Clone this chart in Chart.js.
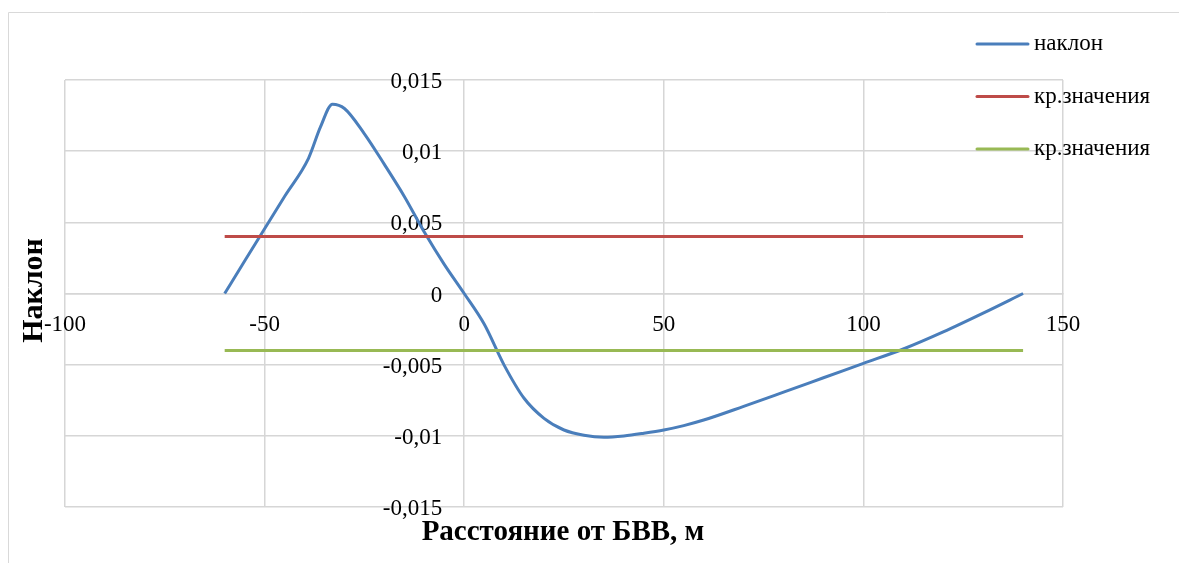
<!DOCTYPE html>
<html>
<head>
<meta charset="utf-8">
<script src="https://cdn.jsdelivr.net/npm/chart.js@4.4.1/dist/chart.umd.min.js"></script>
<style>
  html, body { margin: 0; padding: 0; background: #fff; }
  #wrap { width: 1179px; height: 563px; position: relative; }
</style>
</head>
<body>
<div id="wrap"><canvas id="Chart" width="1179" height="563"></canvas></div>
<script>
// distance from БВВ (m) and slope values
var distance = [-60, -55, -50, -45, -39, -36, -33, -30, -25, -20, -15, -10, -5, 0,
                5, 10, 15, 20, 25, 30, 35, 40, 45, 50, 55, 60, 70, 80, 90, 100, 110, 120, 130, 140];
var slope = [0, 0.00228, 0.00455, 0.00682, 0.0095, 0.0117, 0.0133, 0.0130, 0.01122, 0.00907, 0.00682, 0.00432, 0.00205, 0,
             -0.00215, -0.00503, -0.00736, -0.00877, -0.00959, -0.00996, -0.0101, -0.01001, -0.00982, -0.00959, -0.00928, -0.00889,
             -0.00793, -0.00693, -0.00592, -0.00491, -0.0039, -0.0027, -0.00138, 0];

// critical values
var critX = [-60, 140];
var critUpper = [0.004, 0.004];
var critLower = [-0.004, -0.004];

var seriesNames = ['наклон', 'кр.значения', 'кр.значения'];
var xTickLabels = ['-100', '-50', '0', '50', '100', '150'];
var yTickLabels = ['-0,015', '-0,01', '-0,005', '0', '0,005', '0,01', '0,015'];
var xTitle = 'Расстояние от БВВ, м';
var yTitle = 'Наклон';

var serif = "'Liberation Serif', 'Times New Roman', serif";

function toPoints(xs, ys) {
    var pts = [];
    for (var i = 0; i < xs.length; i++) pts.push({x: xs[i], y: ys[i]});
    return pts;
}

// frame, axis titles and the legend that sits over the plot
var decorPlugin = {
    id: 'decor',
    beforeDraw: function(chart) {
        var ctx = chart.ctx;
        ctx.save();
        ctx.strokeStyle = '#d9d9d9';
        ctx.lineWidth = 1;
        ctx.beginPath();
        ctx.moveTo(8.5, 563);
        ctx.lineTo(8.5, 12.5);
        ctx.lineTo(1179, 12.5);
        ctx.stroke();
        ctx.restore();
    },
    afterDraw: function(chart) {
        var ctx = chart.ctx;
        var area = chart.chartArea;
        ctx.save();
        ctx.fillStyle = '#000';
        ctx.textAlign = 'center';
        ctx.textBaseline = 'alphabetic';
        ctx.font = 'bold 29px ' + serif;
        ctx.fillText(xTitle, (area.left + area.right) / 2 - 1, 540);
        ctx.font = 'bold 30px ' + serif;
        ctx.translate(42, (area.top + area.bottom) / 2 - 3);
        ctx.rotate(-Math.PI / 2);
        ctx.fillText(yTitle, 0, 0);
        ctx.restore();

        chart.data.datasets.forEach(function(ds, i) {
            var y = 44 + i * 52.5;
            ctx.save();
            ctx.strokeStyle = ds.borderColor;
            ctx.lineWidth = 3;
            ctx.lineCap = 'round';
            ctx.beginPath();
            ctx.moveTo(977, y);
            ctx.lineTo(1028, y);
            ctx.stroke();
            ctx.fillStyle = '#000';
            ctx.font = '23px ' + serif;
            ctx.textAlign = 'left';
            ctx.textBaseline = 'middle';
            ctx.fillText(ds.label, 1034, y);
            ctx.restore();
        });
    }
};

var ctx = document.getElementById('Chart');
var newChart = new Chart(ctx, {
    type: 'line',
    data: {
        datasets: [
            {
                label: seriesNames[0],
                data: toPoints(distance, slope),
                borderColor: '#4A7EBB',
                borderWidth: 3,
                pointRadius: 0,
                fill: false,
                cubicInterpolationMode: 'monotone',
                order: 2
            },
            {
                label: seriesNames[1],
                data: toPoints(critX, critUpper),
                borderColor: '#BE4B48',
                borderWidth: 3,
                pointRadius: 0,
                fill: false,
                order: 1
            },
            {
                label: seriesNames[2],
                data: toPoints(critX, critLower),
                borderColor: '#98B954',
                borderWidth: 3,
                pointRadius: 0,
                fill: false,
                order: 1
            }
        ]
    },
    options: {
        responsive: false,
        animation: false,
        devicePixelRatio: 1,
        layout: { padding: { left: 65, right: 116, top: 80, bottom: 56 } },
        plugins: {
            legend: { display: false },
            tooltip: { enabled: false }
        },
        scales: {
            x: {
                type: 'linear',
                position: { y: 0 },
                min: -100,
                max: 150,
                grid: { color: '#d6d6d6', lineWidth: 1.5, drawTicks: false },
                border: { color: '#d6d6d6', width: 1.5 },
                ticks: {
                    stepSize: 50,
                    padding: 18,
                    color: '#000',
                    font: { family: serif, size: 23 },
                    maxRotation: 0,
                    callback: function(value, index) { return xTickLabels[index]; }
                }
            },
            y: {
                type: 'linear',
                position: { x: -5.5 },
                min: -0.015,
                max: 0.015,
                grid: { color: '#d6d6d6', lineWidth: 1.5, drawTicks: false },
                border: { display: false },
                ticks: {
                    stepSize: 0.005,
                    labelOffset: 2,
                    color: '#000',
                    font: { family: serif, size: 23 },
                    callback: function(value, index) { return yTickLabels[index]; }
                }
            }
        }
    },
    plugins: [decorPlugin]
});
</script>
</body>
</html>
